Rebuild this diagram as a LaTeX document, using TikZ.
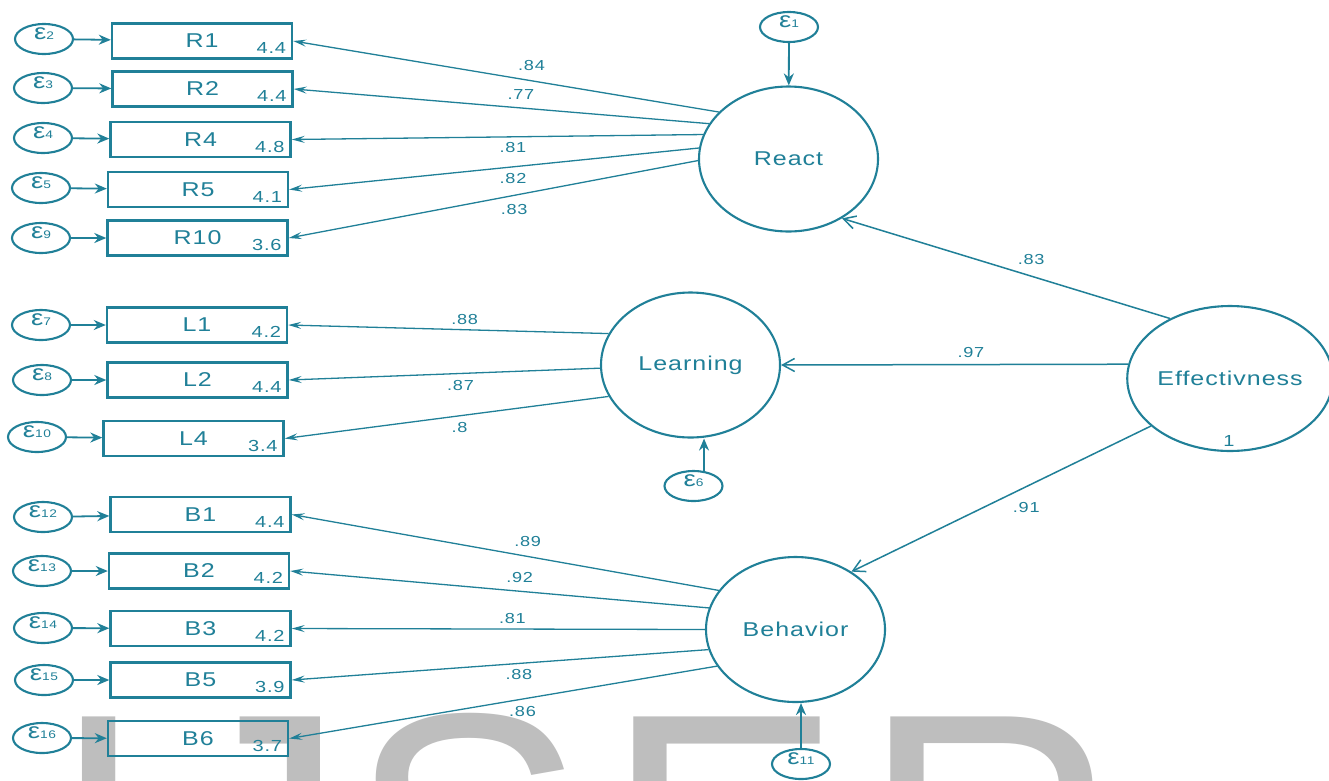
\documentclass[tikz,border=0pt]{standalone}
\usepackage{fontspec}
\setmainfont{Liberation Sans}
\newfontfamily\widefont[FakeStretch=1.25,LetterSpace=5]{Liberation Sans}
\usetikzlibrary{arrows.meta,shapes.geometric}
\definecolor{semteal}{RGB}{32,128,152}
\definecolor{wmgray}{RGB}{190,190,190}
\newcommand{\errlab}[1]{{\fontsize{22}{22}\selectfont ε}{\fontsize{11}{11}\selectfont #1}}
\begin{document}
\begin{tikzpicture}[x=1pt,y=-1pt,
 obs/.style={draw=semteal, line width=2.4pt, minimum width=180pt, minimum height=35pt, inner sep=0pt, text=semteal, font=\widefont\fontsize{20}{20}\selectfont},
 lat/.style={ellipse, draw=semteal, line width=2.1pt, minimum width=179pt, minimum height=145pt, inner sep=0pt, text=semteal, font=\widefont\fontsize{20}{20}\selectfont},
 errnode/.style={ellipse, draw=semteal, line width=2.1pt, minimum width=58pt, minimum height=30pt, inner sep=0pt},
 errtxt/.style={text=semteal, inner sep=0pt, yshift=5pt, font=\widefont},
 meanlab/.style={anchor=base east, text=semteal, inner sep=0pt, font=\widefont\fontsize{16}{16}\selectfont},
 coef/.style={text=semteal, inner sep=0pt, font=\widefont\fontsize{14.5}{14.5}\selectfont},
 load/.style={draw=semteal, line width=1.3pt, -{Stealth[length=13pt,width=7pt,inset=5pt]}},
 errarr/.style={draw=semteal, line width=1.8pt, -{Stealth[length=12pt,width=10pt]}},
 struct/.style={draw=semteal, line width=1.5pt, -{Straight Barb[length=12pt,width=13pt]}},
 wmark/.style={anchor=base west, inner sep=0pt, text=wmgray, font=\fontsize{357}{400}\selectfont}
]
\useasboundingbox (0,0) rectangle (1329,780);
\fill[white] (0,0) rectangle (1329,780);
% watermark
\begin{scope}
\clip (0,0) rectangle (1329,780);
\node[wmark] (wI) at (49,962) {I};
\node[wmark] (wJ) at (168,962) {J};
\node[wmark] (wS) at (348,962) {S};
\node[wmark] (wE) at (604,962) {E};
\node[wmark] (wR) at (861,962) {R};
\end{scope}

% latent variables
\node[lat] (React) at (788.5,159) {React};
\node[lat] (Learning) at (690.5,365) {Learning};
\node[lat] (Eff) at (1230,378.5) {Effectivness};
\node[lat] (Behavior) at (795.5,629.5) {Behavior};
\node[coef, font=\widefont\fontsize{16}{16}\selectfont] (effvar) at (1229,441) {1};

% observed variables
\node[obs] (R1) at (202,41) {R1};
\node[obs] (R2) at (202.5,89) {R2};
\node[obs] (R4) at (200.5,139.5) {R4};
\node[obs] (R5) at (198,189.5) {R5};
\node[obs] (R10) at (197.5,238) {R10};
\node[obs] (L1) at (197,325) {L1};
\node[obs] (L2) at (197.5,380) {L2};
\node[obs] (L4) at (193.5,438.5) {L4};
\node[obs] (B1) at (200.5,514.5) {B1};
\node[obs] (B2) at (199,571) {B2};
\node[obs] (B3) at (200.5,628.5) {B3};
\node[obs] (B5) at (200.5,680) {B5};
\node[obs] (B6) at (198,738.5) {B6};

% means
\node[meanlab] (mR1) at ([xshift=-7pt,yshift=6pt]R1.south east) {4.4};
\node[meanlab] (mR2) at ([xshift=-7pt,yshift=6pt]R2.south east) {4.4};
\node[meanlab] (mR4) at ([xshift=-7pt,yshift=6pt]R4.south east) {4.8};
\node[meanlab] (mR5) at ([xshift=-7pt,yshift=6pt]R5.south east) {4.1};
\node[meanlab] (mR10) at ([xshift=-7pt,yshift=6pt]R10.south east) {3.6};
\node[meanlab] (mL1) at ([xshift=-7pt,yshift=6pt]L1.south east) {4.2};
\node[meanlab] (mL2) at ([xshift=-7pt,yshift=6pt]L2.south east) {4.4};
\node[meanlab] (mL4) at ([xshift=-7pt,yshift=6pt]L4.south east) {3.4};
\node[meanlab] (mB1) at ([xshift=-7pt,yshift=6pt]B1.south east) {4.4};
\node[meanlab] (mB2) at ([xshift=-7pt,yshift=6pt]B2.south east) {4.2};
\node[meanlab] (mB3) at ([xshift=-7pt,yshift=6pt]B3.south east) {4.2};
\node[meanlab] (mB5) at ([xshift=-7pt,yshift=6pt]B5.south east) {3.9};
\node[meanlab] (mB6) at ([xshift=-7pt,yshift=6pt]B6.south east) {3.7};

% error terms
\foreach \n/\x/\y in {2/44/39, 3/43/88, 4/43/138, 5/41/188, 9/41/238, 7/41/325, 8/42/380, 10/37/437, 12/43/517, 13/42/571, 14/43/628, 15/44/680, 16/42/738, 1/789/27, 6/693.5/486, 11/801/764}{
  \node[errnode] (e\n) at (\x,\y) {};
  \node[errtxt] (t\n) at (e\n) {\errlab{\n}};
}

% error arrows
\draw[errarr] (e2) -- (R1);
\draw[errarr] (e3) -- (R2);
\draw[errarr] (e4) -- (R4);
\draw[errarr] (e5) -- (R5);
\draw[errarr] (e9) -- (R10);
\draw[errarr] (e7) -- (L1);
\draw[errarr] (e8) -- (L2);
\draw[errarr] (e10) -- (L4);
\draw[errarr] (e12) -- (B1);
\draw[errarr] (e13) -- (B2);
\draw[errarr] (e14) -- (B3);
\draw[errarr] (e15) -- (B5);
\draw[errarr] (e16) -- (B6);
\draw[errarr] (e1) -- (React);
\draw[errarr] (e6.55) -- (e6.55 |- Learning.south);
\draw[errarr] (e11.north) -- (e11.north |- Behavior.south);

% loadings React
\draw[load] (React.146.7) -- node[coef,pos=.44,yshift=15pt] (c1) {.84} (R1.east);
\draw[load] (React.156.5) -- node[coef,pos=.453,yshift=13pt] (c2) {.77} (R2.east);
\draw[load] (React.164.9) -- node[coef,pos=.4625,yshift=-10.5pt] (c3) {.81} (R4.east);
\draw[load] (React.173.1) -- node[coef,pos=.4537,yshift=-12pt] (c4) {.82} (R5.east);
\draw[load] (React.181.9) -- node[coef,pos=.449,yshift=-14pt] (c5) {.83} (R10.east);
% loadings Learning
\draw[load] (Learning.159.1) -- node[coef,pos=.449,yshift=10.5pt] (c6) {.88} (L1.east);
\draw[load] (Learning.182) -- node[coef,pos=.448,yshift=-11.6pt] (c7) {.87} (L2.east);
\draw[load] (Learning.201.1) -- node[coef,pos=.46,yshift=-11.7pt] (c8) {.8} (L4.east);
% loadings Behavior
\draw[load] (Behavior.153.3) -- node[coef,pos=.4476,yshift=14.8pt] (c9) {.89} (B1.east);
\draw[load] (Behavior.166) -- node[coef,pos=.452,yshift=13.3pt] (c10) {.92} (B2.east);
\draw[load] (Behavior.180) -- node[coef,pos=.466,yshift=10.8pt] (c11) {.81} (B3.east);
\draw[load] (Behavior.193.2) -- node[coef,pos=.4545,yshift=-11.4pt] (c12) {.88} (B5.east);
\draw[load] (Behavior.205.5) -- node[coef,pos=.4545,yshift=-12.5pt] (c13) {.86} (B6.east);
% structural paths
\draw[struct] (Eff.135.3) -- node[coef,pos=.423,yshift=17pt] (c14) {.83} (React.312.2);
\draw[struct] (Eff.172.6) -- node[coef,pos=.453,yshift=12pt] (c15) {.97} (Learning.east);
\draw[struct] (Eff.211.4) -- node[coef,pos=.416,yshift=-20.4pt] (c16) {.91} (Behavior.46);
\end{tikzpicture}
\end{document}
